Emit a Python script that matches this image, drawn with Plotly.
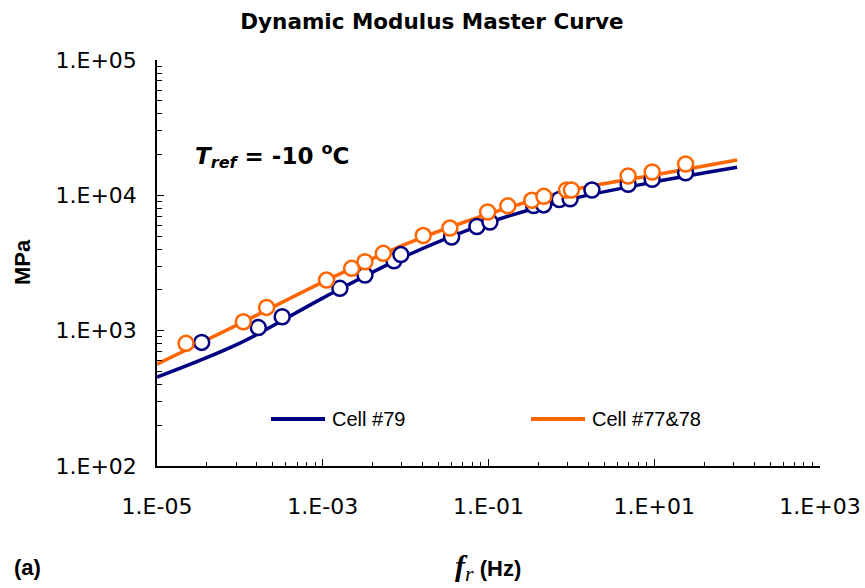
import plotly.graph_objects as go

# Measured dynamic modulus |E*| (MPa) vs reduced frequency (Hz)
freq_79 = [3.46e-5, 1.67e-4, 3.24e-4, 1.61e-3, 3.23e-3, 7.23e-3, 8.77e-3, 0.0359, 0.0724,
           0.104, 0.350, 0.463, 0.716, 0.966, 1.77, 4.84, 9.44, 23.9]
mod_79 = [819, 1054, 1267, 2054, 2576, 3285, 3650, 4920, 5880,
          6350, 8410, 8500, 9310, 9440, 10950, 12060, 13130, 14690]

freq_7778 = [2.24e-5, 1.10e-4, 2.10e-4, 1.11e-3, 2.23e-3, 3.23e-3, 5.37e-3, 0.0163, 0.0342,
             0.0977, 0.171, 0.333, 0.466, 0.875, 1.00, 4.84, 9.44, 23.9]
mod_7778 = [806, 1164, 1486, 2366, 2886, 3229, 3727, 5044, 5730,
            7530, 8360, 9190, 9830, 10950, 10950, 13890, 14870, 17030]

# Fitted master curves
fit_freq = [1e-5, 1e-4, 1e-3, 1e-2, 1e-1, 1, 10, 100]
fit_79 = [454, 809, 1741, 3560, 6290, 9390, 12540, 16100]
fit_7778 = [566, 1128, 2286, 4365, 7280, 10940, 14130, 18230]

series_names = ["Cell #79", "Cell #77&78"]

# Axis ticks
x_tickvals = [1e-5, 1e-3, 1e-1, 1e1, 1e3]
x_ticktext = ["1.E-05", "1.E-03", "1.E-01", "1.E+01", "1.E+03"]
y_tickvals = [1e2, 1e3, 1e4, 1e5]
y_ticktext = ["1.E+02", "1.E+03", "1.E+04", "1.E+05"]

NAVY = "#000080"
ORANGE = "#FF6600"
WIDE = "DejaVu Sans, Verdana, sans-serif"
ARIAL = "Liberation Sans, Arial, sans-serif"

# plot-area geometry in pixels, used to place the free-floating texts
L, R, T, B = 157, 820, 60, 466
W, H = R - L, B - T


def px(x):
    return (x - L) / W


def py(y):
    return (B - y) / H


# x-axis major ticks span two decades; minor ticks follow a k^2 pattern between them
x_minor = [m * k * k for m in x_tickvals[:-1] for k in range(2, 10)]

fig = go.Figure()

fig.add_trace(go.Scatter(x=fit_freq, y=fit_79, mode="lines", name=series_names[0],
                         showlegend=False,
                         line=dict(color=NAVY, width=3.5, shape="spline")))
fig.add_trace(go.Scatter(x=fit_freq, y=fit_7778, mode="lines", name=series_names[1],
                         showlegend=False,
                         line=dict(color=ORANGE, width=3.5, shape="spline")))
fig.add_trace(go.Scatter(x=freq_79, y=mod_79, mode="markers", showlegend=False,
                         marker=dict(symbol="circle", size=15, color="white",
                                     line=dict(color=NAVY, width=2.5))))
fig.add_trace(go.Scatter(x=freq_7778, y=mod_7778, mode="markers", showlegend=False,
                         marker=dict(symbol="circle", size=15, color="white",
                                     line=dict(color=ORANGE, width=2.5))))

# In-plot legend: line sample plus label for each fitted curve
legend_items = [(series_names[0], NAVY, 271), (series_names[1], ORANGE, 531)]
shapes = []
annotations = []
for name, color, x0 in legend_items:
    shapes.append(dict(type="line", xref="paper", yref="paper",
                       x0=px(x0), x1=px(x0 + 54), y0=py(419), y1=py(419),
                       line=dict(color=color, width=4)))
    annotations.append(dict(text=name, xref="paper", yref="paper",
                            x=px(x0 + 59), y=py(419), xanchor="left", yanchor="middle",
                            showarrow=False, font=dict(size=20, family=ARIAL, color="black")))

annotations += [
    dict(text="<b><i>T</i><sub><i>ref</i></sub> = -10 <sup>o</sup>C</b>",
         xref="paper", yref="paper", x=px(193), y=py(155),
         xanchor="left", yanchor="middle", showarrow=False,
         font=dict(size=23, family=WIDE, color="black")),
    dict(text="<b>MPa</b>", textangle=-90,
         xref="paper", yref="paper", x=px(22), y=py(262),
         xanchor="center", yanchor="middle", showarrow=False,
         font=dict(size=22, family=ARIAL, color="black")),
    dict(text="<b>(a)</b>",
         xref="paper", yref="paper", x=px(12), y=py(567),
         xanchor="left", yanchor="middle", showarrow=False,
         font=dict(size=22, family=ARIAL, color="black")),
    dict(text="<span style=\"font-family:'Liberation Serif',serif;font-size:30px\"><b><i>f</i></b></span>"
              "<sub><span style=\"font-family:'Liberation Serif',serif;font-size:22px\"><i>r</i></span></sub>"
              " <b>(Hz)</b>",
         xref="paper", yref="paper", x=px(488), y=py(567),
         xanchor="center", yanchor="middle", showarrow=False,
         font=dict(size=22, family=ARIAL, color="black")),
]

fig.update_layout(
    width=865, height=588,
    margin=dict(l=L, r=865 - R, t=T, b=588 - B, autoexpand=False),
    paper_bgcolor="white", plot_bgcolor="white",
    font=dict(family=WIDE, color="black"),
    showlegend=False,
    title=dict(text="<b>Dynamic Modulus Master Curve</b>",
               x=0.4994, xanchor="center", xref="container",
               y=1 - 21 / 588, yanchor="middle", yref="container",
               font=dict(size=21.5, family=WIDE, color="black")),
    xaxis=dict(type="log", range=[-5, 3], showgrid=False, zeroline=False,
               automargin=False,
               showline=True, linecolor="black", linewidth=1.5,
               tickvals=x_tickvals, ticktext=x_ticktext,
               ticks="inside", ticklen=7, tickwidth=1.3, tickcolor="black",
               ticklabelstandoff=20,
               tickfont=dict(size=22, family=WIDE, color="black"),
               minor=dict(tickvals=x_minor, ticks="inside", ticklen=4.5,
                          tickwidth=1.3, tickcolor="black", showgrid=False)),
    yaxis=dict(type="log", range=[2, 5], showgrid=False, zeroline=False,
               automargin=False,
               showline=True, linecolor="black", linewidth=1.5,
               tickvals=y_tickvals, ticktext=y_ticktext,
               ticks="inside", ticklen=7, tickwidth=1.3, tickcolor="black",
               ticklabelstandoff=14,
               tickfont=dict(size=22, family=WIDE, color="black"),
               minor=dict(dtick="D1", ticks="inside", ticklen=5,
                          tickwidth=1.3, tickcolor="black", showgrid=False)),
    shapes=shapes,
    annotations=annotations,
)

fig.write_html("out.html")
